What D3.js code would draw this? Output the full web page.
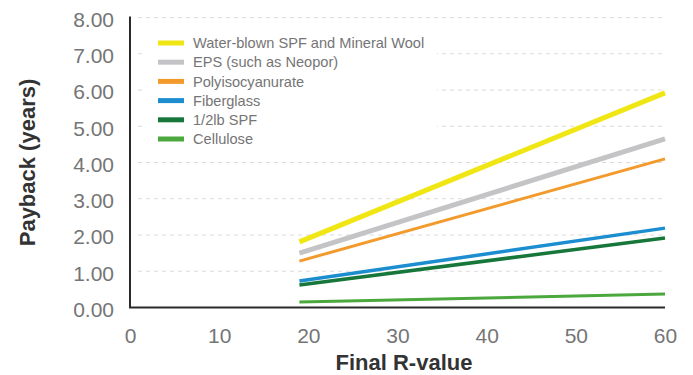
<!DOCTYPE html>
<html>
<head>
<meta charset="utf-8">
<script src="https://cdn.jsdelivr.net/npm/d3@7"></script>
<style>
  html, body { margin: 0; padding: 0; background: #fff; }
  svg { display: block; font-family: "Liberation Sans", Arial, Helvetica, sans-serif; }
</style>
</head>
<body>
<svg id="chart" width="693" height="375"></svg>
<script>
// Payback of insulation upgrades vs. final R-value
const rValues = [19, 60];
const seriesNames = [
  "Water-blown SPF and Mineral Wool",
  "EPS (such as Neopor)",
  "Polyisocyanurate",
  "Fiberglass",
  "1/2lb SPF",
  "Cellulose"
];
const seriesColors = ["#f0e614", "#c4c4c6", "#f39a2c", "#1c8ed0", "#17763a", "#4aa83c"];
const seriesWidths = [5, 5, 3, 3.5, 3.5, 3];
const waterBlownSPF = [1.81, 5.92];
const eps = [1.50, 4.65];
const polyiso = [1.28, 4.10];
const fiberglass = [0.73, 2.19];
const halfPoundSPF = [0.62, 1.92];
const cellulose = [0.15, 0.37];
const seriesValues = [waterBlownSPF, eps, polyiso, fiberglass, halfPoundSPF, cellulose];
const xTicks = [0, 10, 20, 30, 40, 50, 60];
const yTicks = [0, 1, 2, 3, 4, 5, 6, 7, 8];

const svg = d3.select("#chart");
const x = d3.scaleLinear().domain([0, 60]).range([130, 665]);
const y = d3.scaleLinear().domain([0, 8]).range([307.5, 17.5]);

// dashed horizontal gridlines
svg.append("g")
  .selectAll("line")
  .data(yTicks.filter(d => d > 0))
  .join("line")
  .attr("x1", 138).attr("x2", 665)
  .attr("y1", d => y(d)).attr("y2", d => y(d))
  .attr("stroke", "#dcdcdc")
  .attr("stroke-width", 1.2)
  .attr("stroke-dasharray", "4,4");

// y axis tick labels
const yAxis = d3.axisLeft(y).tickValues(yTicks).tickFormat(d3.format(".2f")).tickSize(0).tickPadding(16);
const gy = svg.append("g").attr("transform", `translate(${x(0)},0)`).call(yAxis);
gy.select(".domain").remove();
gy.selectAll("text")
  .attr("font-size", 21)
  .attr("fill", "#757575")
  .attr("font-family", "'Liberation Sans', Arial, sans-serif")
  .attr("dy", "0.42em");

// x axis tick labels
const xAxis = d3.axisBottom(x).tickValues(xTicks).tickFormat(d3.format("d")).tickSize(0).tickPadding(21);
const gx = svg.append("g").attr("transform", `translate(0,${y(0)})`).call(xAxis);
gx.select(".domain").remove();
gx.selectAll("text")
  .attr("font-size", 21)
  .attr("fill", "#757575")
  .attr("font-family", "'Liberation Sans', Arial, sans-serif");

// series lines
const line = d3.line().x((d, i) => x(rValues[i])).y(d => y(d));
svg.append("g")
  .selectAll("path")
  .data(seriesValues)
  .join("path")
  .attr("d", d => line(d))
  .attr("fill", "none")
  .attr("stroke", (d, i) => seriesColors[i])
  .attr("stroke-width", (d, i) => seriesWidths[i]);

// axis lines
svg.append("line")
  .attr("x1", x(0)).attr("x2", x(0))
  .attr("y1", y(8) - 1).attr("y2", y(0))
  .attr("stroke", "#2a2a2a").attr("stroke-width", 2);
svg.append("line")
  .attr("x1", x(0) - 1).attr("x2", x(60))
  .attr("y1", y(0)).attr("y2", y(0))
  .attr("stroke", "#2a2a2a").attr("stroke-width", 2);

// legend
const legend = svg.append("g");
legend.append("rect")
  .attr("x", 142).attr("y", 30)
  .attr("width", 295).attr("height", 122)
  .attr("fill", "#fff");
const rows = legend.selectAll("g.row")
  .data(seriesNames)
  .join("g")
  .attr("class", "row")
  .attr("transform", (d, i) => `translate(0,${43 + i * 19.2})`);
rows.append("line")
  .attr("x1", 158).attr("x2", 184)
  .attr("y1", 0).attr("y2", 0)
  .attr("stroke", (d, i) => seriesColors[i])
  .attr("stroke-width", 5);
rows.append("text")
  .attr("x", 193).attr("y", 0)
  .attr("dy", "0.36em")
  .attr("font-size", 14.6)
  .attr("fill", "#757575")
  .text(d => d);

// axis titles
svg.append("text")
  .attr("transform", `translate(35,${(y(0) + y(8)) / 2}) rotate(-90)`)
  .attr("text-anchor", "middle")
  .attr("font-size", 22)
  .attr("font-weight", "bold")
  .attr("fill", "#333")
  .text("Payback (years)");
svg.append("text")
  .attr("x", 404).attr("y", 370)
  .attr("text-anchor", "middle")
  .attr("font-size", 22)
  .attr("font-weight", "bold")
  .attr("fill", "#333")
  .text("Final R-value");
</script>
</body>
</html>
